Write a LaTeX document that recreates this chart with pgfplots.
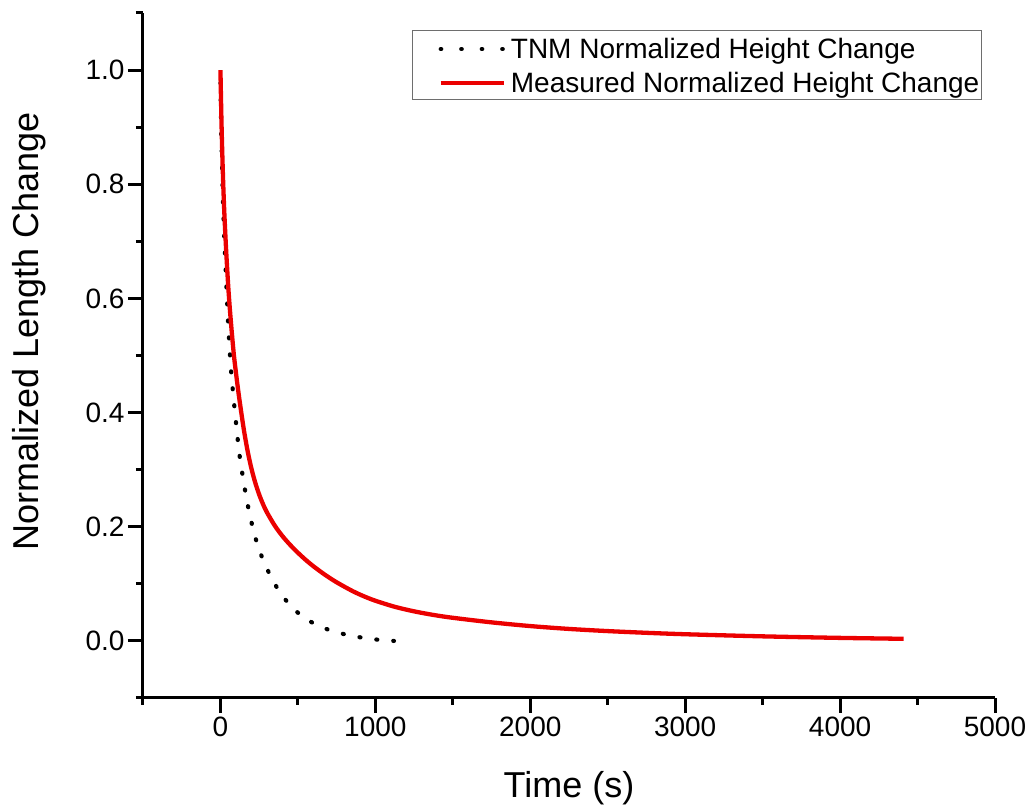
\documentclass[border=0pt]{standalone}
\usepackage{fontspec}
\setmainfont{Liberation Sans}
\usepackage{pgfplots}
\pgfplotsset{compat=1.18}
\definecolor{myred}{RGB}{235,0,0}
\definecolor{leggray}{RGB}{110,110,110}
\begin{document}
\begin{tikzpicture}
\begin{axis}[
  scale only axis, width=852pt, height=685pt,
  xmin=-500, xmax=5000, ymin=-0.1, ymax=1.1,
  axis x line*=bottom, axis y line*=left,
  axis line style={line width=3pt, -, black},
  xtick={0,1000,2000,3000,4000,5000},
  ytick={0,0.2,0.4,0.6,0.8,1.0},
  minor xtick={-500,500,1500,2500,3500,4500},
  minor ytick={-0.1,0.1,0.3,0.5,0.7,0.9,1.1},
  tick align=outside,
  major tick length=15pt, minor tick length=7pt,
  every tick/.style={line width=3pt, black},
  /pgf/number format/assume math mode=true,
  ticklabel style={font=\fontsize{28}{30}\selectfont},
  xticklabel style={/pgf/number format/1000 sep={}},
  yticklabel style={/pgf/number format/.cd, fixed, fixed zerofill, precision=1},
  xlabel={Time (s)}, ylabel={Normalized Length Change},
  label style={font=\fontsize{36}{42}\selectfont},
  xlabel style={at={(axis description cs:0.5,-0.131)}, anchor=center},
  ylabel style={at={(axis description cs:-0.1335,0.535)}, anchor=center},
  legend style={at={(axis description cs:0.9847,0.9752)}, anchor=north east,
    draw=leggray, line width=1.2pt, font=\fontsize{28}{30}\selectfont,
    inner xsep=2pt, inner ysep=3.5pt, row sep=6pt, column sep=5pt,
    nodes={inner sep=0pt, text height=24pt, text depth=4pt}},
  legend cell align=left,
  legend image code/.code={\path (-24pt,0pt); \draw[#1] (0pt,-1pt) -- (63pt,-1pt);},
]
\addplot[black, line width=4.2pt, line cap=round, dash pattern=on 1pt off 16pt, dash phase=4.5pt,
  legend image code/.code={\path (-24pt,0pt); \draw[black, line width=4.2pt, line cap=round, dash pattern=on 0.5pt off 20pt, dash phase=0pt] (0pt,-1pt) -- (62pt,-1pt);}]
coordinates {
(0,1.000) (2,0.942) (5,0.894) (10,0.836) (15,0.785) (20,0.741) (30,0.672)
(40,0.612) (50,0.556) (65,0.484) (80,0.438) (100,0.383) (120,0.331)
(140,0.295) (160,0.262) (180,0.233) (210,0.196) (240,0.167) (280,0.138)
(330,0.110) (380,0.086) (455,0.060) (540,0.040) (627,0.027) (713,0.018)
(810,0.011) (906,0.006) (1018,0.002) (1120,0.000)
};
\addlegendentry{TNM Normalized Height Change}
\addplot[myred, line width=4.3pt, smooth, tension=0.5] coordinates {
(0,1.000) (5,0.930) (10,0.872) (17,0.808) (25,0.750) (37,0.683) (50,0.622)
(62,0.577) (75,0.535) (87,0.500) (100,0.470) (112,0.444) (125,0.418)
(150,0.3718) (175,0.3331) (200,0.3019) (225,0.2769) (250,0.2564)
(275,0.2394) (300,0.2252) (350,0.2022) (400,0.1837) (450,0.1682)
(500,0.1545) (550,0.1420) (600,0.1308) (675,0.1158) (750,0.1027)
(850,0.0877) (925,0.0783) (1000,0.0704) (1125,0.0598) (1250,0.0518)
(1375,0.0455) (1500,0.0405) (1750,0.0325) (2000,0.0260) (2250,0.0210)
(2500,0.0172) (2750,0.0142) (3000,0.0117) (3500,0.0080) (4000,0.0053)
(4410,0.0037)
};
\addlegendentry{Measured Normalized Height Change}
\end{axis}
\path ([shift={(-143pt,-110pt)}]current axis.south west) rectangle ([shift={(888pt,698pt)}]current axis.south west);
\end{tikzpicture}
\end{document}
